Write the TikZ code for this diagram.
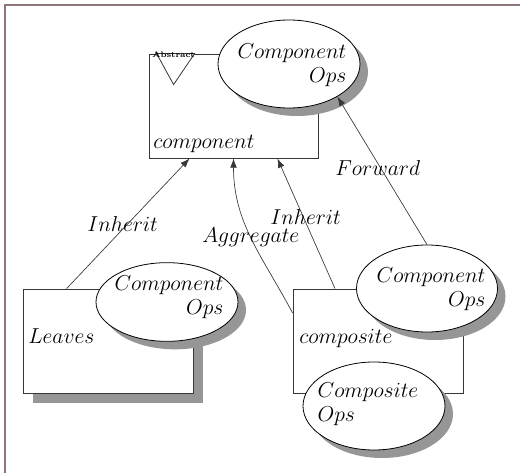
\RequirePackage{fix-cm}
\documentclass[tikz,border=0pt]{standalone}
\usepackage{amssymb, amsmath}
\usepackage{tikz}
\usetikzlibrary{shapes.geometric, shadows, arrows.meta}
\definecolor{framecol}{RGB}{140,118,118}
\definecolor{shadowgray}{RGB}{150,150,150}
\definecolor{linegray}{RGB}{55,55,55}

\begin{document}
\begin{tikzpicture}[x=0.75pt, y=-0.75pt,
    classbox/.style={rectangle, draw=linegray, line width=0.6pt, fill=white, minimum width=127.5pt, minimum height=78pt, inner sep=0pt},
    boxshadow/.style={drop shadow={shadow xshift=7.5pt, shadow yshift=-7.5pt, fill=shadowgray, opacity=1}},
    opsellipse/.style={ellipse, draw=black, line width=0.6pt, fill=white, inner sep=0pt, drop shadow={shadow xshift=6pt, shadow yshift=-6pt, fill=shadowgray, opacity=1}},
    bigtext/.style={font=\fontsize{16.2}{18}\selectfont, inner sep=0pt},
    link/.style={draw=linegray, line width=0.5pt, -{Latex[length=7pt, width=5pt]}}]
    \useasboundingbox (0,0) rectangle (520,473);
    \draw[framecol, line width=1.5pt] (5,473) -- (5,5) -- (520,5);

    \node[classbox, minimum width=126.75pt] (component) at (233.5,106) {};
    \draw[linegray, line width=0.6pt, fill=white] ([xshift=6pt]component.north west) -- ++(28.5pt,0) -- ++(-15.75pt,-23.25pt) -- cycle;
    \node[font=\fontsize{6}{6}\selectfont\bfseries, inner sep=0pt] (abstractlbl) at ([xshift=18.75pt, yshift=-0.75pt]component.north west) {Abstract};
    \node[bigtext, anchor=base west] (componentlbl) at (153,149) {$component$};
    \node[opsellipse, minimum width=106.5pt, minimum height=66pt] (componentops) at (289,64) {};
    \node[bigtext, align=right] (componentopstxt) at (292,64.75) {$Component$\\$Ops$};

    \node[classbox, boxshadow] (leaves) at (108,341) {};
    \node[bigtext, anchor=base west] (leaveslbl) at (28,344) {$Leaves$};
    \node[opsellipse, minimum width=106.5pt, minimum height=59pt] (leavesops) at (167,302) {};
    \node[bigtext, align=right] (leavesopstxt) at (169,296.75) {$Component$\\$Ops$};

    \node[classbox] (composite) at (378,341) {};
    \node[bigtext, anchor=base west] (compositelbl) at (299,343) {$composite$};
    \node[opsellipse, minimum width=105.75pt, minimum height=65.25pt] (compositeops) at (427,288.5) {};
    \node[bigtext, align=right] (compositeopstxt) at (431,288.75) {$Component$\\$Ops$};
    \node[opsellipse, minimum width=106.5pt, minimum height=66pt] (ownops) at (374,406) {};
    \node[bigtext, align=left] (ownopstxt) at (368,403.75) {$Composite$\\$Ops$};

    \draw[link] ([xshift=33pt]leaves.north west) -- ([xshift=30.75pt]component.south west);
    \draw[link] ([yshift=21pt]composite.west) to [out=118, in=-90] (component.south);
    \draw[link] ([xshift=-32.25pt]composite.north) -- ([xshift=-30.75pt]component.south east);
    \draw[link] (compositeops.north) -- (componentops.-34);

    \node[bigtext, anchor=base west] (inheritleft) at (87,232) {$Inherit$};
    \node[bigtext, anchor=base west] (aggregatelbl) at (202,243) {$Aggregate$};
    \node[bigtext, anchor=base west] (inheritright) at (270,225) {$Inherit$};
    \node[bigtext, anchor=base west] (forwardlbl) at (335,176) {$Forward$};
\end{tikzpicture}
\end{document}
